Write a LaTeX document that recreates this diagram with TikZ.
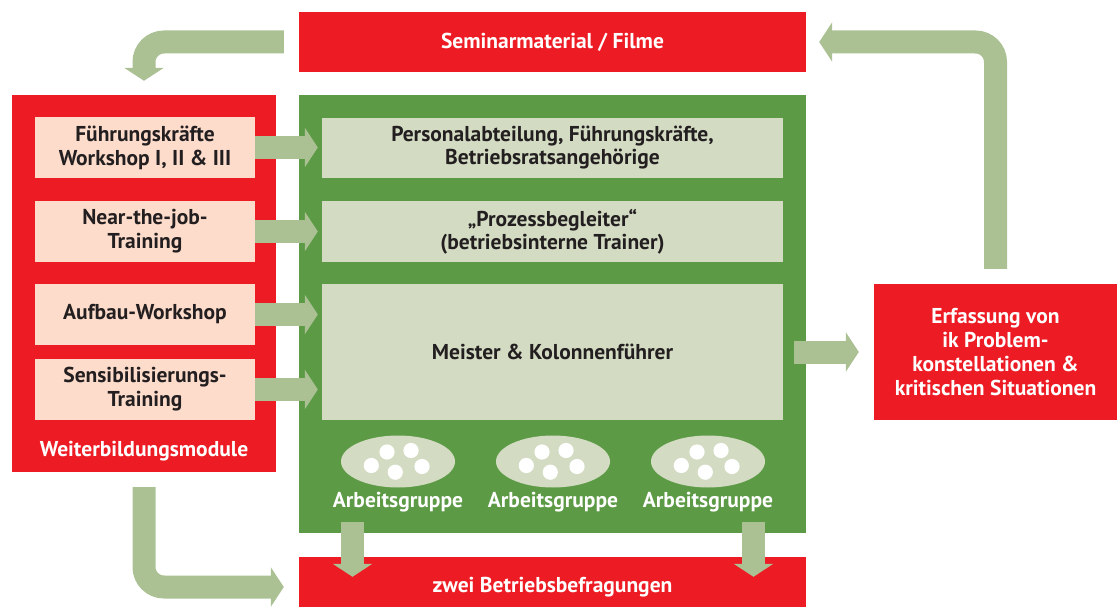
\documentclass[tikz,border=0pt]{standalone}
\usepackage{fontspec}
\setmainfont{PT Sans}
\usetikzlibrary{arrows.meta,calc,shapes.geometric}
\definecolor{cred}{HTML}{ED1C24}
\definecolor{cgreen}{HTML}{5D9A46}
\definecolor{clgreen}{HTML}{D3DCC3}
\definecolor{cpink}{HTML}{FDDCCB}
\definecolor{carrow}{HTML}{ABC194}
\definecolor{ctext}{HTML}{231F20}
\tikzset{
  redbox/.style={fill=cred, draw=none, inner sep=0pt, text=white, font=\fontsize{21.5}{23.7}\selectfont\bfseries, align=center},
  pinkbox/.style={fill=cpink, draw=none, inner sep=0pt, minimum width=220pt, minimum height=61pt, text=ctext, font=\fontsize{21.5}{24}\selectfont\bfseries, align=center},
  lgbox/.style={fill=clgreen, draw=none, inner sep=0pt, minimum width=461pt, text=ctext, font=\fontsize{21.5}{23}\selectfont\bfseries, align=center},
  grp/.style={fill=clgreen, draw=none, ellipse, minimum width=114pt, minimum height=52pt},
  grplabel/.style={text=white, font=\fontsize{21.5}{23}\selectfont\bfseries, inner sep=0pt},
  fat/.style={draw=carrow, line width=23pt, -{Triangle[length=13pt,width=39pt]}},
  dot/.style={fill=white, draw=none}
}
\begin{document}
\begin{tikzpicture}[x=1pt,y=-1pt]
\useasboundingbox (0,0) rectangle (1120,607);
% boxes
\node[redbox, minimum width=507pt, minimum height=60pt] (sem) at (552.5,42) {Seminarmaterial / Filme};
\node[redbox, minimum width=264pt, minimum height=377pt] (wb) at (144,283.5) {};
\node[redbox] (wbl) at (144,451) {Weiterbildungsmodule};
\node[fill=cgreen, draw=none, minimum width=507pt, minimum height=438pt, inner sep=0pt] (green) at (552.5,314) {};
\node[redbox, minimum width=507pt, minimum height=56pt] (bot) at (552.5,585) {};
\node[redbox] (botl) at (552.5,587) {zwei Betriebsbefragungen};
\node[redbox, minimum width=243pt, minimum height=136pt] (erf) at (995.5,352) {Erfassung von\\ik Problem-\\konstellationen \&\\kritischen Situationen};
% pink boxes
\node[pinkbox] (p1) at (145,147.5) {Führungskräfte\\Workshop I, II \& III};
\node[pinkbox] (p2) at (145,231.5) {Near-the-job-\\Training};
\node[pinkbox] (p3) at (145,314.5) {Aufbau-Workshop};
\node[pinkbox] (p4) at (145,389.5) {Sensibilisierungs-\\Training};
% light green boxes
\node[lgbox, minimum height=60pt] (g1) at (552.5,148) {Personalabteilung, Führungskräfte,\\Betriebsratsangehörige};
\node[lgbox, minimum height=61pt] (g2) at (552.5,231.5) {„Prozessbegleiter“\\(betriebsinterne Trainer)};
\node[lgbox, minimum height=136pt] (g3) at (552.5,352) {Meister \& Kolonnenführer};
% groups
\foreach \i/\x in {1/398,2/553,3/708}{
  \node[grp] (e\i) at (\x,461.5) {};
  \foreach \dx/\dy in {-11/-9.5, 13/-11, -26.7/4, -2.7/10.7, 24/5}{
    \fill[white] ($(e\i)+(\dx,\dy)$) circle (7.6pt);
  }
  \node[grplabel] (a\i) at (\x,502) {Arbeitsgruppe};
}
\coordinate (d1) at (352.5,0);
\coordinate (d2) at (753.5,0);
% arrows
\foreach \i in {1,2,3}{
  \draw[fat, shorten >=4pt] (p\i.east) -- (p\i.east -| g\i.west);
}
\draw[fat, shorten >=4pt] (p4.east) -- (p4.east -| g3.west);
\draw[fat, shorten <=-12pt, shorten >=15pt] (green.east |- erf) -- (erf.west);
\draw[fat, shorten <=-11pt, shorten >=-20pt] (green.south -| d1) -- (bot.north -| d1);
\draw[fat, shorten <=-11pt, shorten >=-20pt] (green.south -| d2) -- (bot.north -| d2);
\draw[fat, rounded corners=20pt, shorten <=15pt, shorten >=14pt] (sem.west) -| (wb.north);
\draw[fat, rounded corners=20pt, shorten <=15pt, shorten >=13pt] (erf.north) |- (sem.east);
\draw[fat, rounded corners=20pt, shorten <=15pt, shorten >=15pt] (wb.south) |- ([yshift=-2pt]bot.west);
\end{tikzpicture}
\end{document}
